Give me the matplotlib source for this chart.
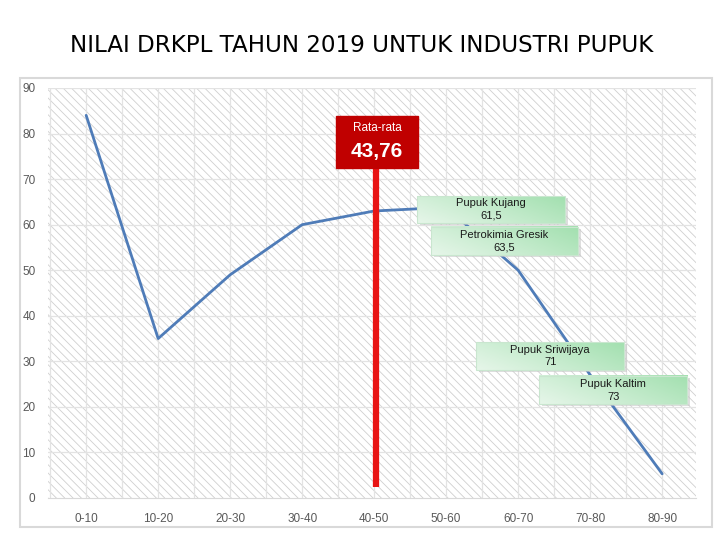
import numpy as np
import matplotlib
matplotlib.use("Agg")
import matplotlib.pyplot as plt
from matplotlib.patches import Rectangle
from matplotlib.colors import LinearSegmentedColormap

categories = ["0-10", "10-20", "20-30", "30-40", "40-50", "50-60", "60-70", "70-80", "80-90"]
values = [84, 35, 49, 60, 63, 63.8, 50, 27, 5.3]
avg_label = "Rata-rata"
avg_value_text = "43,76"
avg_x = 4.03
avg_line = [2.4, 72.4]
companies = ["Pupuk Kujang", "Petrokimia Gresik", "Pupuk Sriwijaya", "Pupuk Kaltim"]
company_values = ["61,5", "63,5", "71", "73"]
y_ticks = [0, 10, 20, 30, 40, 50, 60, 70, 80, 90]

plt.rcParams['font.family'] = ['Liberation Sans', 'DejaVu Sans']
plt.rcParams['hatch.color'] = '#cfcfcf'
plt.rcParams['hatch.linewidth'] = 0.6

fig = plt.figure(figsize=(7.2, 5.4), dpi=100)
fig.patch.set_facecolor('white')

# outer frame
fig.add_artist(Rectangle((20/720, 13/540), 692/720, 449/540, transform=fig.transFigure,
                         fill=False, edgecolor='#d9d9d9', lw=1.5))

fig.text(362/720, 1 - 45/540, "NILAI DRKPL TAHUN 2019 UNTUK INDUSTRI PUPUK",
         ha='center', va='center', fontsize=16.6, color='black', family='DejaVu Sans')

ax = fig.add_axes([48/720, 42/540, 648/720, 410/540])
ax.set_xlim(-0.53, 8.47)
ax.set_ylim(0, 90)

# hatched background
ax.add_patch(Rectangle((0, 0), 1, 1, transform=ax.transAxes, facecolor='white',
                       edgecolor='#cfcfcf', hatch='\\\\\\\\', lw=0, zorder=0))

for s in ['left', 'right', 'top']:
    ax.spines[s].set_visible(False)
ax.spines['bottom'].set_color('#d9d9d9')

x = np.arange(len(categories))
ax.set_xticks(x)
ax.set_xticklabels(categories)
ax.set_yticks(y_ticks)
ax.tick_params(axis='both', length=0, colors='#595959', labelsize=8.5)
ax.tick_params(axis='x', pad=11)
ax.tick_params(axis='y', pad=9)

for yv in y_ticks[1:]:
    ax.axhline(yv, color='#e3e3e3', lw=0.9, zorder=1)
for xv in np.arange(-0.5, 8.6, 0.5):
    ax.axvline(xv, color='#e3e3e3', lw=0.9, zorder=1)

ax.plot(x, values, color='#4f7cb8', lw=2.0, zorder=3, solid_capstyle='round')

# average line
ax.plot([avg_x, avg_x], avg_line, color='#e81414', lw=4.5, zorder=4, solid_capstyle='butt')
ax.add_patch(Rectangle((3.47, 72.4), 1.14, 11.4, facecolor='#c00000', edgecolor='#c00000', zorder=6))
ax.text(4.04, 81.3, avg_label, ha='center', va='center', color='white', fontsize=8.5, zorder=7)
ax.text(4.04, 76.0, avg_value_text, ha='center', va='center', color='white', fontsize=15,
        fontweight='bold', zorder=7)

# company boxes
boxes = [(4.60, 60.4, 2.05, 5.9), (4.79, 53.3, 2.04, 6.2),
         (5.42, 28.1, 2.05, 6.1), (6.29, 20.6, 2.06, 6.2)]
gx, gy = np.meshgrid(np.linspace(0, 1, 64), np.linspace(0, 1, 16))
grad = 0.7 * gx + 0.3 * gy
cmap = LinearSegmentedColormap.from_list('g', ['#e6f6e9', '#a3e0b0'])
for (bx, by, bw, bh), name, val in zip(boxes, companies, company_values):
    ax.add_patch(Rectangle((bx + 0.04, by - 0.5), bw, bh, facecolor='#c8c8c8',
                           edgecolor='none', zorder=5, alpha=0.6))
    ax.imshow(grad, cmap=cmap, extent=(bx, bx + bw, by, by + bh), origin='lower',
              aspect='auto', zorder=6, interpolation='bilinear')
    ax.add_patch(Rectangle((bx, by), bw, bh, facecolor='none', edgecolor='#c9e6cf',
                           lw=0.8, zorder=7))
    ax.text(bx + bw / 2, by + bh * 0.72, name, ha='center', va='center', fontsize=8,
            color='#1a1a1a', zorder=8)
    ax.text(bx + bw / 2, by + bh * 0.27, val, ha='center', va='center', fontsize=8,
            color='#1a1a1a', zorder=8)

ax.set_xlim(-0.53, 8.47)
ax.set_ylim(0, 90)

fig.savefig('out.png', dpi=100)
